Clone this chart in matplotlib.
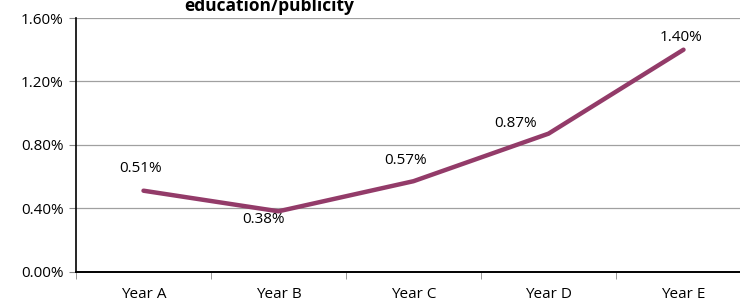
import matplotlib.pyplot as plt
from matplotlib.ticker import FuncFormatter

years = ["Year A", "Year B", "Year C", "Year D", "Year E"]
rates = [0.51, 0.38, 0.57, 0.87, 1.40]
labels = ["0.51%", "0.38%", "0.57%", "0.87%", "1.40%"]
yticks = [0.0, 0.4, 0.8, 1.2, 1.6]

plt.rcParams['font.family'] = ['Open Sans', 'DejaVu Sans']

W, H = 740, 302
fig = plt.figure(figsize=(W / 100, H / 100), dpi=100)
left, right, top, bottom = 76, 751, 18, 271.5
ax = fig.add_axes([left / W, 1 - bottom / H, (right - left) / W, (bottom - top) / H])

x = list(range(len(years)))
ax.plot(x, rates, color='#933b69', lw=3.2, solid_capstyle='round', zorder=3)

# label offsets (points) roughly as placed in the original
offsets = [(-2, 16), (-11, -6), (-6, 15), (-24, 7), (-2, 9)]
for xi, yi, lab, off in zip(x, rates, labels, offsets):
    ax.annotate(lab, (xi, yi), xytext=off, textcoords='offset points',
                ha='center', va='center', fontsize=11, zorder=4)

ax.set_xlim(-0.5, len(years) - 0.5)
ax.set_ylim(0, 1.6)
ax.set_yticks(yticks)
ax.yaxis.set_major_formatter(FuncFormatter(lambda v, p: f"{v:.2f}%"))
ax.set_xticks(x)
ax.set_xticklabels(years)
ax.set_xticks([i - 0.5 for i in range(len(years) + 1)], minor=True)
ax.tick_params(axis='x', which='major', length=0, labelsize=11, pad=11)
ax.tick_params(axis='x', which='minor', length=5, color='#888888')
ax.tick_params(axis='y', length=5, color='#888888', labelsize=11, pad=4)

ax.grid(axis='y', color='#a0a0a0', lw=0.9)
ax.set_axisbelow(True)
for s in ['top', 'right']:
    ax.spines[s].set_visible(False)
ax.spines['left'].set_color('black')
ax.spines['left'].set_linewidth(1.2)
ax.spines['bottom'].set_color('black')
ax.spines['bottom'].set_linewidth(1.4)

fig.text(269 / W, 1 - 6 / H, "education/publicity", ha='center', va='center',
         fontsize=12.5, fontweight='bold')

fig.savefig("out.png", dpi=100)
